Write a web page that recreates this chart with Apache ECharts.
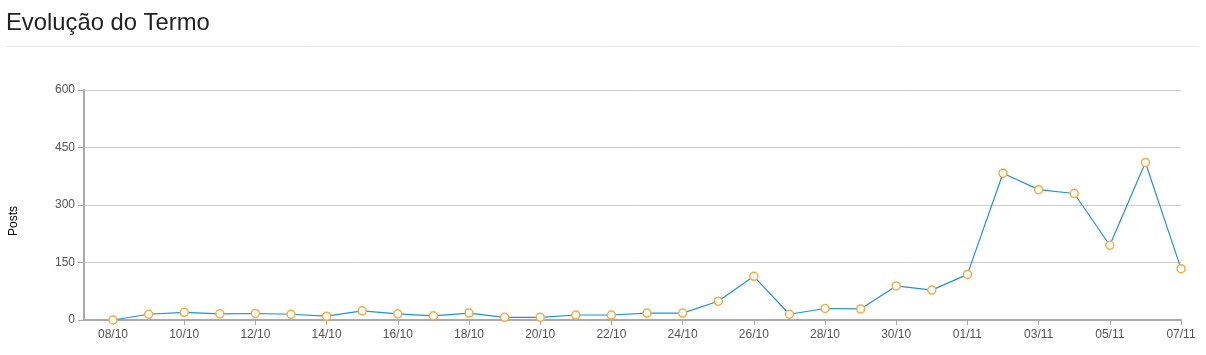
<!DOCTYPE html>
<html>
<head>
<meta charset="utf-8">
<script src="https://cdn.jsdelivr.net/npm/echarts@6/dist/echarts.min.js"></script>
<style>
html,body{margin:0;padding:0;background:#fff;}
#c{width:1206px;height:355px;}
</style>
</head>
<body>
<div id="c"></div>
<script>
const titleText = 'Evolução do Termo';
const yAxisName = 'Posts';
const categories = ['08/10','09/10','10/10','11/10','12/10','13/10','14/10','15/10','16/10','17/10','18/10','19/10','20/10','21/10','22/10','23/10','24/10','25/10','26/10','27/10','28/10','29/10','30/10','31/10','01/11','02/11','03/11','04/11','05/11','06/11','07/11'];
const posts = [0,15,20,16,17,15,10,24,16,11,18,7,7,13,13,18,18,49,114,15,30,29,89,78,119,383,340,330,195,411,134];
const yTicks = [0,150,300,450,600];
const labelIdx = [0,2,4,6,8,10,12,14,16,18,20,22,24,26,28,30];

const chart = echarts.init(document.getElementById('c'), null, {renderer:'canvas'});
const font = 'Arial, "Liberation Sans", Helvetica, sans-serif';
chart.setOption({
  animation:false,
  textStyle:{fontFamily:font},
  title:{text:titleText,left:1,top:6,textStyle:{fontSize:23.8,fontWeight:'normal',color:'#222',fontFamily:font}},
  graphic:[
    {type:'line',shape:{x1:6,y1:46.5,x2:1199,y2:46.5},style:{stroke:'#e6e6e6',lineWidth:1}},
    {type:'text',x:14,y:221,rotation:Math.PI/2,style:{text:yAxisName,fill:'#000',font:'12px '+font,align:'center',verticalAlign:'middle'}}
  ],
  grid:{left:84,right:25,top:90,bottom:35},
  xAxis:{
    type:'value',
    min:-0.815, max:categories.length-1,
    splitLine:{show:false},
    axisLine:{show:true,onZero:false,lineStyle:{color:'#aaa',width:2}},
    axisTick:{show:true,length:5,lineStyle:{color:'#aaa'},customValues:labelIdx},
    axisLabel:{color:'#555',fontSize:12,margin:9,customValues:labelIdx,formatter:v=>categories[Math.round(v)]}
  },
  yAxis:{
    type:'value',min:0,max:600,interval:150,
    axisLine:{show:true,onZero:false,lineStyle:{color:'#aaa',width:2}},
    axisTick:{show:true,length:6,lineStyle:{color:'#aaa'}},
    axisLabel:{color:'#555',fontSize:12,margin:9,formatter:v=>yTicks.includes(v)?String(v):''},
    splitLine:{show:true,lineStyle:{color:'#ccc',width:1}}
  },
  series:[{
    type:'line',
    data:posts.map((v,i)=>[i,v]),
    symbol:'circle',symbolSize:8,showSymbol:true,
    lineStyle:{color:'#1b93de',width:1.2},
    itemStyle:{color:'#fff',borderColor:'#fbaa3c',borderWidth:1.5},
    z:3
  }]
});
</script>
</body>
</html>
